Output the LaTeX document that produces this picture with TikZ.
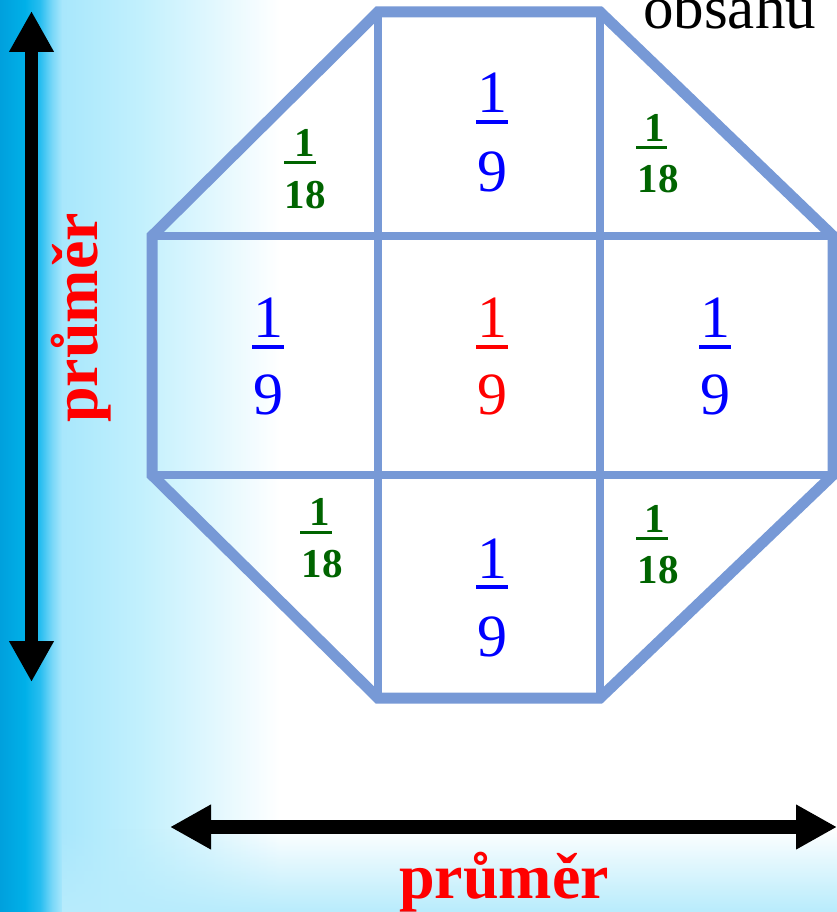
\documentclass[tikz,border=0pt]{standalone}
\usepackage{fontspec}
\setmainfont{Liberation Serif}
\usetikzlibrary{arrows.meta,fadings}
\definecolor{octc}{RGB}{119,153,214}
\definecolor{frgreen}{RGB}{0,100,0}
\definecolor{bgA}{RGB}{0,160,221}
\definecolor{bgB}{RGB}{0,176,232}
\definecolor{bgC}{RGB}{40,190,240}
\definecolor{bgD}{RGB}{120,215,248}
\definecolor{bgE}{RGB}{168,231,252}
\definecolor{bgF}{RGB}{194,240,253}
\definecolor{bgG}{RGB}{224,247,254}
\definecolor{bgbot}{RGB}{184,236,252}
\pgfdeclarehorizontalshading{leftbg}{100bp}{color(0bp)=(bgA); color(25bp)=(bgA); color(29.46bp)=(bgB); color(32.14bp)=(bgC); color(34.29bp)=(bgD); color(36.07bp)=(bgE); color(50bp)=(bgF); color(62.5bp)=(bgG); color(75bp)=(white); color(100bp)=(white)}
\tikzfading[name=fadeup, top color=transparent!100, bottom color=transparent!0]
\tikzset{
  outerline/.style={draw=octc, line width=11pt, line cap=rect, line join=miter},
  innerline/.style={draw=octc, line width=7.5pt},
  bigarrow/.style={line width=13.5pt, {Triangle[length=41pt,width=42pt]}-{Triangle[length=41pt,width=42pt]}},
  bigfr/.style={font=\fontsize{60}{66}\selectfont, anchor=base, inner sep=0pt},
  smallfr/.style={font=\fontsize{41}{46}\selectfont\bfseries, text=frgreen, anchor=base, inner sep=0pt},
  redlabel/.style={font=\fontsize{64}{70}\selectfont\bfseries, text=red, anchor=base, inner sep=0pt},
}
\begin{document}
\begin{tikzpicture}[x=1pt,y=-1pt]
\useasboundingbox (0,0) rectangle (837,912);
% background
\fill[white] (0,0) rectangle (837,912);
\shade[shading=leftbg] (0,0) rectangle (280,912);
\fill[bgbot, path fading=fadeup] (62,828) rectangle (837,912);
% octagon corners
\coordinate (A) at (378,12);
\coordinate (B) at (600,12);
\coordinate (C) at (833,236);
\coordinate (D) at (833,475);
\coordinate (E) at (600,698);
\coordinate (F) at (378,698);
\coordinate (G) at (152,475);
\coordinate (H) at (152,236);
\coordinate (Hr) at (833,236);
\coordinate (Gr) at (833,475);
% inner lines
\draw[innerline] (A) -- (F);
\draw[innerline] (B) -- (E);
\draw[innerline] (H) -- (Hr);
\draw[innerline] (G) -- (Gr);
% outline
\draw[outerline] (A) -- (B) -- (C) -- (D) -- (E) -- (F) -- (G) -- (H) -- cycle;
% arrows
\coordinate (vt) at (31.5,11);
\coordinate (vb) at (31.5,682);
\draw[bigarrow] (vt) -- (vb);
\coordinate (hl) at (170,827);
\coordinate (hr) at (837,827);
\draw[bigarrow] (hl) -- (hr);
% labels
\node[redlabel, rotate=90] (lv) at (97,318) {průměr};
\node[redlabel] (lh) at (504,898) {průměr};
\node[font=\fontsize{61}{66}\selectfont, anchor=base west, inner sep=0pt] (obs) at (643,29) {obsahu};
% big fractions
\node[bigfr, text=blue] (n1) at (492,113) {1};
\draw[blue, line width=3.5pt] (476,122) -- (508,122);
\node[bigfr, text=blue] (d1) at (492,192) {9};
\node[bigfr, text=red] (n2) at (492,337) {1};
\draw[red, line width=3.5pt] (476,347) -- (508,347);
\node[bigfr, text=red] (d2) at (492,414) {9};
\node[bigfr, text=blue] (n3) at (268,337) {1};
\draw[blue, line width=3.5pt] (252,347) -- (284,347);
\node[bigfr, text=blue] (d3) at (268,414) {9};
\node[bigfr, text=blue] (n4) at (715,337) {1};
\draw[blue, line width=3.5pt] (699,347) -- (731,347);
\node[bigfr, text=blue] (d4) at (715,414) {9};
\node[bigfr, text=blue] (n5) at (492,578) {1};
\draw[blue, line width=3.5pt] (476,587) -- (508,587);
\node[bigfr, text=blue] (d5) at (492,656) {9};
% small fractions
\node[smallfr] (g1n) at (305,157) {1};
\draw[frgreen, line width=3pt] (284,163) -- (316,163);
\node[smallfr] (g1d) at (305,208) {18};
\node[smallfr] (g2n) at (655,142) {1};
\draw[frgreen, line width=3pt] (636,148) -- (667,148);
\node[smallfr] (g2d) at (658,193) {18};
\node[smallfr] (g3n) at (320,525) {1};
\draw[frgreen, line width=3pt] (300,532) -- (332,532);
\node[smallfr] (g3d) at (322,577) {18};
\node[smallfr] (g4n) at (655,532) {1};
\draw[frgreen, line width=3pt] (636,538) -- (668,538);
\node[smallfr] (g4d) at (658,583) {18};
\end{tikzpicture}
\end{document}
